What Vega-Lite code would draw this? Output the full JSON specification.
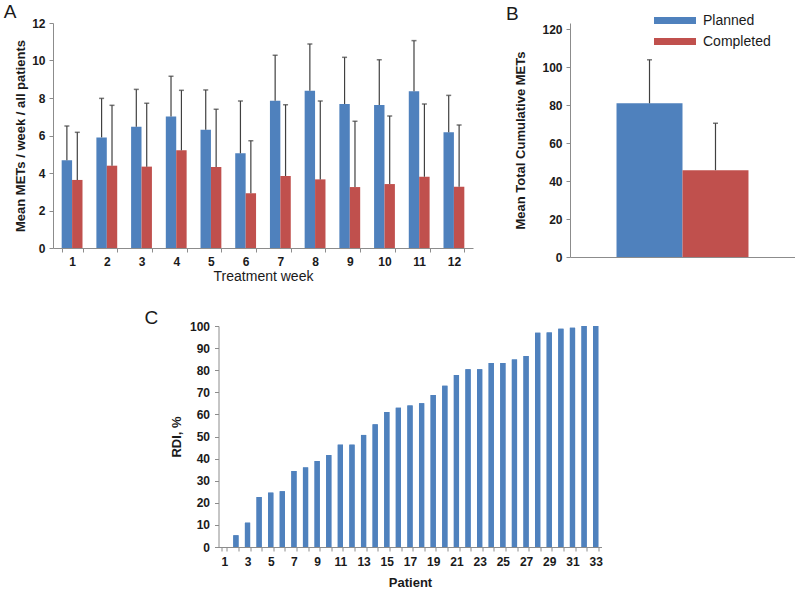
{
  "$schema": "https://vega.github.io/schema/vega-lite/v6.json",
  "padding": {"left": 3, "top": 2, "right": 0, "bottom": 0},
  "background": "white",
  "config": {
    "font": "Liberation Sans",
    "view": {"stroke": null},
    "axis": {
      "grid": false,
      "domainColor": "#8c8c8c",
      "tickColor": "#8c8c8c",
      "tickSize": 4,
      "labelPadding": 4,
      "labelColor": "#1a1a1a",
      "titleColor": "#1a1a1a",
      "labelFont": "Liberation Sans",
      "titleFont": "Liberation Sans",
      "labelFontWeight": "bold",
      "labelFontSize": 12,
      "titleFontWeight": "bold",
      "titleFontSize": 13
    },
    "title": {"fontWeight": "normal", "fontSize": 19, "anchor": "start", "frame": "bounds", "color": "#1a1a1a", "font": "Liberation Sans"},
    "legend": {"labelFont": "Liberation Sans", "labelFontSize": 14, "labelColor": "#1a1a1a"}
  },
  "datasets": {
    "weekly": [
      {"week": 1, "series": "Planned", "mean": 4.68, "upper": 6.51},
      {"week": 1, "series": "Completed", "mean": 3.63, "upper": 6.17},
      {"week": 2, "series": "Planned", "mean": 5.9, "upper": 7.98},
      {"week": 2, "series": "Completed", "mean": 4.39, "upper": 7.61},
      {"week": 3, "series": "Planned", "mean": 6.47, "upper": 8.46},
      {"week": 3, "series": "Completed", "mean": 4.34, "upper": 7.72},
      {"week": 4, "series": "Planned", "mean": 7.02, "upper": 9.16},
      {"week": 4, "series": "Completed", "mean": 5.21, "upper": 8.41},
      {"week": 5, "series": "Planned", "mean": 6.31, "upper": 8.43},
      {"week": 5, "series": "Completed", "mean": 4.32, "upper": 7.4},
      {"week": 6, "series": "Planned", "mean": 5.05, "upper": 7.84},
      {"week": 6, "series": "Completed", "mean": 2.92, "upper": 5.72},
      {"week": 7, "series": "Planned", "mean": 7.86, "upper": 10.28},
      {"week": 7, "series": "Completed", "mean": 3.84, "upper": 7.64},
      {"week": 8, "series": "Planned", "mean": 8.39, "upper": 10.88},
      {"week": 8, "series": "Completed", "mean": 3.66, "upper": 7.84},
      {"week": 9, "series": "Planned", "mean": 7.68, "upper": 10.17},
      {"week": 9, "series": "Completed", "mean": 3.25, "upper": 6.76},
      {"week": 10, "series": "Planned", "mean": 7.63, "upper": 10.04},
      {"week": 10, "series": "Completed", "mean": 3.41, "upper": 7.04},
      {"week": 11, "series": "Planned", "mean": 8.36, "upper": 11.06},
      {"week": 11, "series": "Completed", "mean": 3.8, "upper": 7.68},
      {"week": 12, "series": "Planned", "mean": 6.17, "upper": 8.14},
      {"week": 12, "series": "Completed", "mean": 3.27, "upper": 6.56}
    ],
    "total": [
      {"series": "Planned", "mean": 80.9, "upper": 103.8},
      {"series": "Completed", "mean": 45.7, "upper": 70.4}
    ],
    "rdi": [
      {"patient": 1, "rdi": 0}, {"patient": 2, "rdi": 5.3}, {"patient": 3, "rdi": 11.0},
      {"patient": 4, "rdi": 22.6}, {"patient": 5, "rdi": 24.6}, {"patient": 6, "rdi": 25.2},
      {"patient": 7, "rdi": 34.4}, {"patient": 8, "rdi": 36.0}, {"patient": 9, "rdi": 38.9},
      {"patient": 10, "rdi": 41.6}, {"patient": 11, "rdi": 46.3}, {"patient": 12, "rdi": 46.3},
      {"patient": 13, "rdi": 50.7}, {"patient": 14, "rdi": 55.5}, {"patient": 15, "rdi": 61.1},
      {"patient": 16, "rdi": 63.0}, {"patient": 17, "rdi": 64.0}, {"patient": 18, "rdi": 65.0},
      {"patient": 19, "rdi": 68.8}, {"patient": 20, "rdi": 73.0}, {"patient": 21, "rdi": 77.8},
      {"patient": 22, "rdi": 80.4}, {"patient": 23, "rdi": 80.4}, {"patient": 24, "rdi": 83.3},
      {"patient": 25, "rdi": 83.3}, {"patient": 26, "rdi": 84.8}, {"patient": 27, "rdi": 86.4},
      {"patient": 28, "rdi": 97.0}, {"patient": 29, "rdi": 97.1}, {"patient": 30, "rdi": 98.8},
      {"patient": 31, "rdi": 99.2}, {"patient": 32, "rdi": 100}, {"patient": 33, "rdi": 100}
    ]
  },
  "center": true,
  "spacing": 26,
  "vconcat": [
    {
      "spacing": 32,
      "hconcat": [
        {
          "width": 420,
          "height": 225,
          "title": {"text": "A", "dx": -11, "dy": -4, "offset": -8.5},
          "data": {"name": "weekly"},
          "encoding": {
            "x": {
              "field": "week", "type": "ordinal",
              "scale": {"paddingInner": 0.4, "paddingOuter": 0.25},
              "axis": {"title": "Treatment week", "labelAngle": 0, "tickBand": "extent", "titleFontWeight": "normal", "titleFontSize": 14, "labelPadding": 4, "titlePadding": 2}
            },
            "xOffset": {"field": "series", "type": "nominal", "sort": ["Planned", "Completed"]}
          },
          "layer": [
            {
              "mark": {"type": "bar"},
              "encoding": {
                "y": {"field": "mean", "type": "quantitative", "scale": {"domain": [0, 12]},
                  "axis": {"title": "Mean METs / week / all patients", "values": [0, 2, 4, 6, 8, 10, 12], "labelOverlap": false, "titlePadding": 4}},
                "color": {"field": "series", "type": "nominal",
                  "scale": {"domain": ["Planned", "Completed"], "range": ["#4F81BD", "#C0504D"]},
                  "legend": {"title": null, "orient": "none", "legendX": 601, "legendY": -12, "symbolType": "M-1,-0.17H1V0.17H-1Z", "symbolSize": 1764, "symbolStrokeWidth": 0, "labelOffset": 7, "rowPadding": 2, "clipHeight": 19}}
              }
            },
            {
              "mark": {"type": "rule", "color": "#404040", "strokeWidth": 1.2},
              "encoding": {
                "y": {"field": "mean", "type": "quantitative",
                  "axis": {"title": "Mean METs / week / all patients", "values": [0, 2, 4, 6, 8, 10, 12], "labelOverlap": false, "titlePadding": 4}},
                "y2": {"field": "upper"}}
            },
            {
              "mark": {"type": "tick", "color": "#404040", "size": 5, "thickness": 1.5, "orient": "horizontal"},
              "encoding": {
                "y": {"field": "upper", "type": "quantitative",
                  "axis": {"title": "Mean METs / week / all patients", "values": [0, 2, 4, 6, 8, 10, 12], "labelOverlap": false, "titlePadding": 4}}}
            }
          ]
        },
        {
          "width": 225,
          "height": 234,
          "title": {"text": "B", "dx": -9, "dy": -8, "offset": -8.5},
          "data": {"name": "total"},
          "encoding": {
            "x": {"field": "series", "type": "nominal", "sort": ["Planned", "Completed"],
              "scale": {"paddingInner": 0, "paddingOuter": 0.705},
              "axis": {"title": null, "labels": false, "ticks": false}}
          },
          "layer": [
            {
              "mark": {"type": "bar"},
              "encoding": {
                "y": {"field": "mean", "type": "quantitative", "scale": {"domain": [0, 123.16], "nice": false},
                  "axis": {"title": "Mean Total Cumulative METs", "values": [0, 20, 40, 60, 80, 100, 120], "labelOverlap": false, "titlePadding": 14}},
                "color": {"field": "series", "type": "nominal",
                  "scale": {"domain": ["Planned", "Completed"], "range": ["#4F81BD", "#C0504D"]},
                  "legend": {"title": null, "orient": "none", "legendX": 601, "legendY": -12, "symbolType": "M-1,-0.17H1V0.17H-1Z", "symbolSize": 1764, "symbolStrokeWidth": 0, "labelOffset": 7, "rowPadding": 2, "clipHeight": 19}}
              }
            },
            {
              "mark": {"type": "rule", "color": "#404040", "strokeWidth": 1.2},
              "encoding": {
                "y": {"field": "mean", "type": "quantitative",
                  "axis": {"title": "Mean Total Cumulative METs", "values": [0, 20, 40, 60, 80, 100, 120], "labelOverlap": false, "titlePadding": 14}},
                "y2": {"field": "upper"}}
            },
            {
              "mark": {"type": "tick", "color": "#404040", "size": 5, "thickness": 1.5, "orient": "horizontal"},
              "encoding": {
                "y": {"field": "upper", "type": "quantitative",
                  "axis": {"title": "Mean Total Cumulative METs", "values": [0, 20, 40, 60, 80, 100, 120], "labelOverlap": false, "titlePadding": 14}}}
            }
          ]
        }
      ]
    },
    {
      "width": 383,
      "height": 221,
      "title": {"text": "C", "dx": -26, "dy": 12},
      "data": {"name": "rdi"},
      "encoding": {
        "x": {"field": "patient", "type": "ordinal",
          "scale": {"paddingInner": 0.55, "paddingOuter": 0.275},
          "axis": {"title": "Patient", "labelAngle": 0, "tickBand": "extent", "labelExpr": "datum.value % 2 == 1 ? datum.label : ''", "labelPadding": 5, "titlePadding": 9}}
      },
      "layer": [
        {
          "mark": {"type": "bar", "color": "#4F81BD"},
          "encoding": {
            "y": {"field": "rdi", "type": "quantitative", "scale": {"domain": [0, 100]},
              "axis": {"title": "RDI, %", "values": [0, 10, 20, 30, 40, 50, 60, 70, 80, 90, 100], "labelPadding": 5, "titlePadding": 6}}
          }
        },
        {
          "mark": {"type": "bar", "color": "#4F81BD"},
          "encoding": {
            "y": {"field": "rdi", "type": "quantitative",
              "axis": {"orient": "right", "title": null, "labels": false, "ticks": false, "domain": false, "minExtent": 28, "maxExtent": 28}}
          }
        }
      ],
      "resolve": {"axis": {"y": "independent"}}
    }
  ]
}
